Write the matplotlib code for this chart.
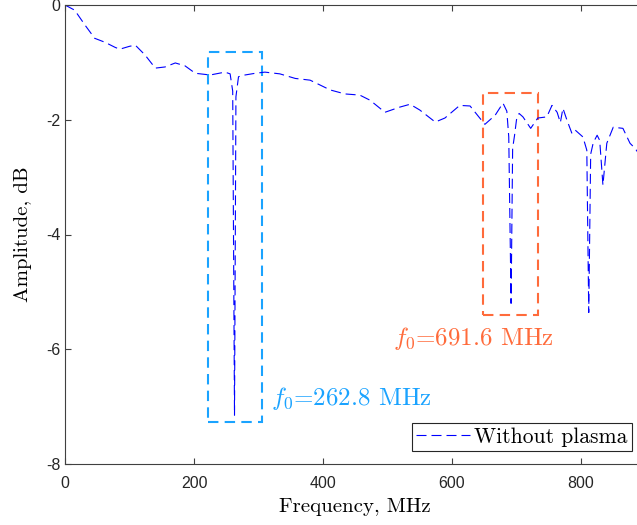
import numpy as np
import matplotlib
matplotlib.use("Agg")
import matplotlib.pyplot as plt
from matplotlib.patches import Rectangle

plt.rcParams['mathtext.fontset'] = 'cm'
plt.rcParams['font.family'] = ['Liberation Sans', 'DejaVu Sans']
plt.rcParams['axes.unicode_minus'] = False
plt.rcParams['axes.formatter.use_mathtext'] = False

# measured transmission, no plasma
freq = [0, 15, 31, 46, 62, 78, 85, 100, 109, 124, 140, 155, 171, 186, 202,
        225, 248, 256, 260, 262.8, 265, 269, 279, 295, 310, 333, 357, 380,
        411, 434, 457, 473, 496, 519, 535, 550, 574, 589, 612, 628, 643, 651,
        667, 679, 685, 688, 691.6, 694, 697, 700, 704, 710, 716, 722, 733,
        747, 755, 763, 768, 772, 778, 786, 791, 803, 809, 812, 815, 819, 825,
        829, 834, 840, 850, 865, 876, 884, 890]
amp = [0, -0.09, -0.35, -0.58, -0.65, -0.74, -0.77, -0.72, -0.70, -0.87,
       -1.10, -1.08, -1.01, -1.06, -1.19, -1.22, -1.17, -1.20, -1.50, -7.15,
       -1.60, -1.25, -1.22, -1.19, -1.17, -1.20, -1.28, -1.31, -1.48, -1.55,
       -1.57, -1.66, -1.87, -1.78, -1.73, -1.83, -2.04, -1.97, -1.75, -1.76,
       -1.97, -2.08, -1.92, -1.71, -1.85, -2.30, -5.20, -2.50, -2.27, -2.00,
       -1.89, -1.95, -2.05, -2.15, -1.97, -1.95, -1.75, -1.87, -2.05, -1.80,
       -2.00, -2.24, -2.18, -2.30, -2.53, -5.36, -2.60, -2.40, -2.27, -2.36,
       -3.14, -2.41, -2.13, -2.15, -2.41, -2.50, -2.60]

# resonance markers
f0_values = [262.8, 691.6]
box_x = [(222, 305), (648, 733)]
box_y = [(-7.27, -0.82), (-5.41, -1.54)]
box_colors = ['#1AA3FF', '#FF6B3B']

serif = ['cmr10', 'DejaVu Serif']

fig = plt.figure(figsize=(6.37, 5.25), dpi=100)
ax = fig.add_axes([65 / 637, 61 / 525, 580.5 / 637, 459 / 525])

ax.plot(freq, amp, color='#0000FF', lw=0.8, linestyle=(0, (9, 4.5)),
        label='Without plasma')

for (x0, x1), (y0, y1), c in zip(box_x, box_y, box_colors):
    ax.add_patch(Rectangle((x0, y0), x1 - x0, y1 - y0, fill=False,
                           edgecolor=c, lw=1.5, linestyle=(0, (5, 3))))

ax.text(320, -6.86, r'$f_0$=%.1f MHz' % f0_values[0], family=serif,
        color=box_colors[0], fontsize=18, va='center', ha='left')
ax.text(509, -5.82, r'$f_0$=%.1f MHz' % f0_values[1], family=serif,
        color=box_colors[1], fontsize=18, va='center', ha='left')

ax.set_xlim(0, 900)
ax.set_ylim(-8, 0)
ax.set_xticks([0, 200, 400, 600, 800])
ax.set_yticks([-8, -6, -4, -2, 0])
ax.tick_params(direction='in', top=True, right=True, labelsize=11.5,
               color='#404040', labelcolor='#262626', length=4)
ax.tick_params(axis='x', pad=9)
for s in ax.spines.values():
    s.set_color('#404040')
    s.set_linewidth(0.8)

ax.set_xlabel('Frequency, MHz', family=serif, fontsize=15, labelpad=5)
ax.set_ylabel('Amplitude, dB', family=serif, fontsize=15, labelpad=10)

leg = ax.legend(loc='lower right', bbox_to_anchor=(567 / 580.5, 13 / 459),
                prop={'family': serif, 'size': 15.5}, fancybox=False,
                framealpha=1, edgecolor='#262626', borderpad=0.2,
                handlelength=2.5, handletextpad=0.2, borderaxespad=0)
leg.get_frame().set_linewidth(0.8)

fig.savefig('out.png', dpi=100)
